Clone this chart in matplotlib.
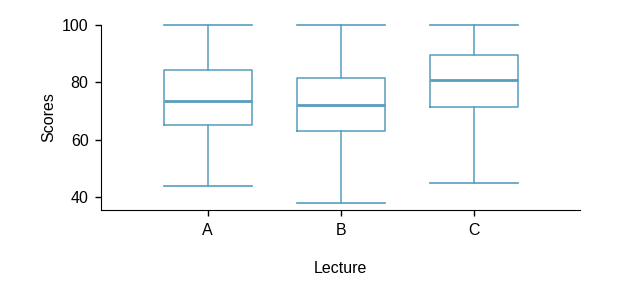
import matplotlib
matplotlib.use("Agg")
import matplotlib.pyplot as plt

plt.rcParams['font.family'] = ['Liberation Sans', 'DejaVu Sans']

lectures = ["A", "B", "C"]
whisker_low = [44, 38, 45]
q1 = [65, 63, 71.5]
medians = [73.5, 72, 81]
q3 = [84.5, 81.5, 89.5]
whisker_high = [100, 100, 100]

color = "#579dbf"

stats = []
for i, name in enumerate(lectures):
    stats.append(dict(label=name, whislo=whisker_low[i], q1=q1[i], med=medians[i],
                      q3=q3[i], whishi=whisker_high[i], fliers=[]))

fig = plt.figure(figsize=(6.44, 2.95), dpi=100)
ax = fig.add_axes([0.157, 0.288, 0.744, 0.627])

ax.bxp(stats, positions=range(len(lectures)), widths=0.66, showfliers=False,
       boxprops=dict(color=color, linewidth=1.1),
       whiskerprops=dict(color=color, linewidth=1.1),
       capprops=dict(color=color, linewidth=1.2),
       medianprops=dict(color=color, linewidth=2.0),
       capwidths=0.66)

for art in ax.get_children():
    try:
        art.set_clip_on(False)
    except Exception:
        pass

ax.set_xlim(-0.8, 2.8)
ax.set_ylim(35.5, 100)
ax.set_yticks([40, 60, 80, 100])
ax.set_xticks(range(len(lectures)))
ax.set_xticklabels(lectures)

ax.spines['top'].set_visible(False)
ax.spines['right'].set_visible(False)
ax.spines['left'].set_bounds(35.5, 100)
ax.tick_params(axis='both', direction='out', length=4, width=1, labelsize=11.5, pad=5)

ax.set_ylabel("Scores", fontsize=11.5, labelpad=4)
ax.set_xlabel("Lecture", fontsize=11.5, labelpad=17)

fig.savefig("out.png", dpi=100)
